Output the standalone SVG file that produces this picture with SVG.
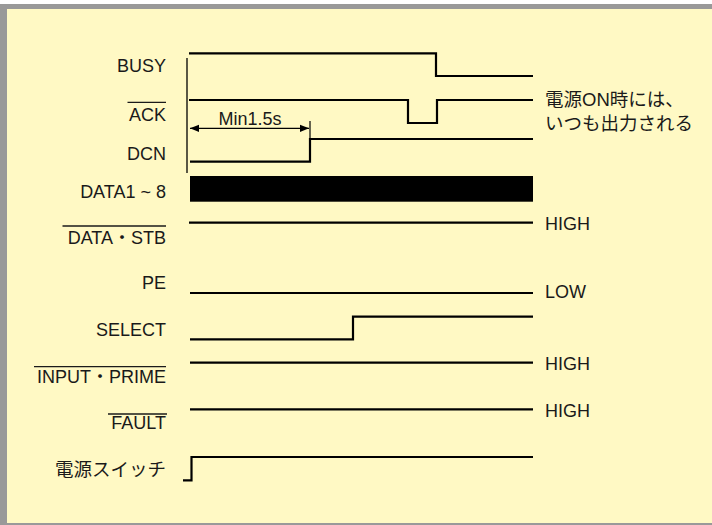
<svg xmlns="http://www.w3.org/2000/svg" width="712" height="525" viewBox="0 0 712 525">
<style>
  .lbl { font-family: "Liberation Sans", "Noto Sans CJK JP", sans-serif; font-size: 18px; fill: #1a1a1a; }
  .jp { font-size: 18.5px; }
  .r { text-anchor: end; }
  .sig { fill: none; stroke: #000; stroke-width: 2.2; stroke-linejoin: miter; }
  .ov { stroke: #1a1a1a; stroke-width: 1.3; }
</style>
<defs>
  <marker id="ah" viewBox="0 0 10 10" refX="10" refY="5" markerWidth="9" markerHeight="9" markerUnits="userSpaceOnUse" orient="auto-start-reverse">
    <path d="M0,1 L10,5 L0,9 Z" fill="#000"/>
  </marker>
</defs>
<rect x="0" y="4" width="712" height="521" fill="#999999"/>
<rect x="7" y="9" width="705" height="514" fill="#FFF9C4"/>

<g id="labels">
  <g id="busy-label"><text class="lbl r" x="166" y="72">BUSY</text></g>
  <g id="ack-label"><text class="lbl r" x="166" y="121">ACK</text><line class="ov" x1="127.5" y1="102.3" x2="166" y2="102.3"/></g>
  <g id="dcn-label"><text class="lbl r" x="166" y="160">DCN</text></g>
  <g id="data-label"><text class="lbl r" x="166" y="198">DATA1 ~ 8</text></g>
  <g id="stb-label"><text class="lbl r" x="166" y="244">DATA・STB</text><line class="ov" x1="62.5" y1="226" x2="166" y2="226"/></g>
  <g id="pe-label"><text class="lbl r" x="166" y="289">PE</text></g>
  <g id="select-label"><text class="lbl r" x="166" y="336">SELECT</text></g>
  <g id="prime-label"><text class="lbl r" x="166" y="383">INPUT・PRIME</text><line class="ov" x1="34" y1="366.7" x2="166" y2="366.7"/></g>
  <g id="fault-label"><text class="lbl r" x="166" y="429">FAULT</text><line class="ov" x1="108" y1="414" x2="167" y2="414"/></g>
  <g id="power-label"><text class="lbl jp r" x="166" y="476">電源スイッチ</text></g>
</g>

<g id="state-labels">
  <text class="lbl" x="545" y="230">HIGH</text>
  <text class="lbl" x="545" y="298">LOW</text>
  <text class="lbl" x="545" y="370">HIGH</text>
  <text class="lbl" x="545" y="416.5">HIGH</text>
  <text class="lbl jp" x="545" y="106">電源ON時には、</text>
  <text class="lbl jp" x="545" y="129.5">いつも出力される</text>
</g>

<g id="connectors">
  <line x1="187" y1="58" x2="187" y2="173" stroke="#000" stroke-width="1.3"/>
  <polyline id="busy" class="sig" points="189,53.3 436,53.3 436,76 533,76"/>
  <polyline id="ack" class="sig" points="189,100 408,100 408,123 437,123 437,100 533,100"/>
  <polyline id="dcn" class="sig" points="190,161.7 310,161.7 310,139 533,139"/>
  <line x1="190" y1="128.3" x2="309" y2="128.3" stroke="#000" stroke-width="1.2" marker-start="url(#ah)" marker-end="url(#ah)"/>
  <line x1="310" y1="121" x2="310" y2="138" stroke="#000" stroke-width="1.2"/>
  <text class="lbl" x="250" y="124.5" text-anchor="middle">Min1.5s</text>
  <rect id="data" x="190" y="176" width="343" height="25.7" fill="#000"/>
  <line id="stb" class="sig" x1="189" y1="222.7" x2="533" y2="222.7"/>
  <line id="pe" class="sig" x1="190" y1="293" x2="533" y2="293"/>
  <polyline id="select" class="sig" points="190,339.3 353,339.3 353,316.7 533,316.7"/>
  <line id="prime" class="sig" x1="190" y1="362.7" x2="533" y2="362.7"/>
  <line id="fault" class="sig" x1="190" y1="409.3" x2="533" y2="409.3"/>
  <polyline id="power" class="sig" points="183,480.3 191.5,480.3 191.5,457 533,457"/>
</g>
</svg>
